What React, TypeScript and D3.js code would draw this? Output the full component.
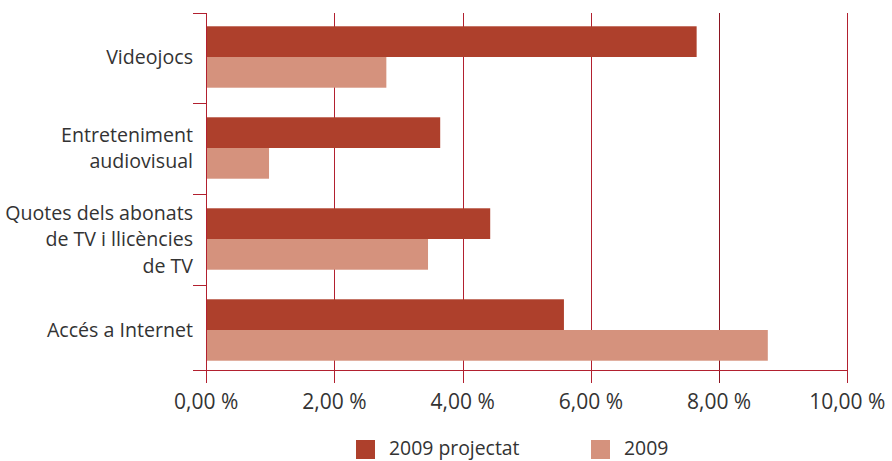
import React from "react";
import * as d3 from "d3";

const categories = ["Videojocs", "Entreteniment\naudiovisual", "Quotes dels abonats\nde TV i llicències\nde TV", "Accés a Internet"];
const projected2009 = [7.65, 3.65, 4.43, 5.58];
const actual2009 = [2.81, 0.98, 3.46, 8.76];
const xTicks = [0, 2, 4, 6, 8, 10];
const seriesNames = ["2009 projectat", "2009"];

const WIDTH = 892;
const HEIGHT = 461;
const X0 = 206.2;
const X1 = 847.3;
const TOP = 13;
const AXIS_Y = 370;
const DARK = "#ae402c";
const LIGHT = "#d5927d";
const GRID = "#b2202f";
const FONT = "'Open Sans', sans-serif";

export default function App() {
  const x = d3.scaleLinear().domain([0, 10]).range([X0, X1]);
  const y = d3.scaleBand<string>().domain(categories).range([11.5, 375.5]).paddingInner(0.325).paddingOuter(0.1625);
  const bw = y.bandwidth();
  const step = y.step();
  const fmt = (d: number) => d.toFixed(2).replace(".", ",") + " %";

  // category boundaries for the left ticks
  const bounds = [TOP, ...categories.slice(1).map((c) => (y(c) as number) - (step - bw) / 2), AXIS_Y];

  return (
    <svg width={WIDTH} height={HEIGHT} style={{ position: "absolute", left: 0, top: 0 }} fontFamily={FONT}>
      {/* gridlines + ticks */}
      {xTicks.slice(1).map((t) => (
        <line key={t} x1={Math.round(x(t)) + 0.5} x2={Math.round(x(t)) + 0.5} y1={TOP} y2={383} stroke={t === 8 ? "#8c1420" : GRID} strokeWidth={1} />
      ))}
      {categories.map((c, i) => (
        <g key={c}>
          <rect x={x(0)} y={y(c)} width={x(projected2009[i]) - x(0)} height={bw / 2} fill={DARK} />
          <rect x={x(0)} y={(y(c) as number) + bw / 2} width={x(actual2009[i]) - x(0)} height={bw / 2} fill={LIGHT} />
        </g>
      ))}
      {/* axes */}
      <line x1={206.5} x2={206.5} y1={TOP} y2={383} stroke={GRID} />
      <line x1={193} x2={x(10)} y1={AXIS_Y + 0.5} y2={AXIS_Y + 0.5} stroke={GRID} />
      {bounds.slice(0, -1).map((b, i) => (
        <line key={i} x1={193} x2={206.5} y1={Math.round(b) + 0.5} y2={Math.round(b) + 0.5} stroke={GRID} />
      ))}
      {xTicks.map((t) => (
        <text key={t} x={x(t)} y={409} textAnchor="middle" fontSize={21} fill="#333">
          {fmt(t)}
        </text>
      ))}
      {/* category labels */}
      {categories.map((c) => {
        const lines = c.split("\n");
        const cy = (y(c) as number) + bw / 2;
        const lh = 26.5;
        return (
          <text key={c} x={193} textAnchor="end" fontSize={19.6} fill="#333">
            {lines.map((l, j) => (
              <tspan key={j} x={193} y={cy + 7 + (j - (lines.length - 1) / 2) * lh}>
                {l}
              </tspan>
            ))}
          </text>
        );
      })}
      {/* legend */}
      {seriesNames.map((s, i) => (
        <g key={s} transform={`translate(${i === 0 ? 356 : 591},440)`}>
          <rect width={19} height={19} fill={i === 0 ? DARK : LIGHT} />
          <text x={33} y={15} fontSize={19.4} fill="#333">
            {s}
          </text>
        </g>
      ))}
    </svg>
  );
}
